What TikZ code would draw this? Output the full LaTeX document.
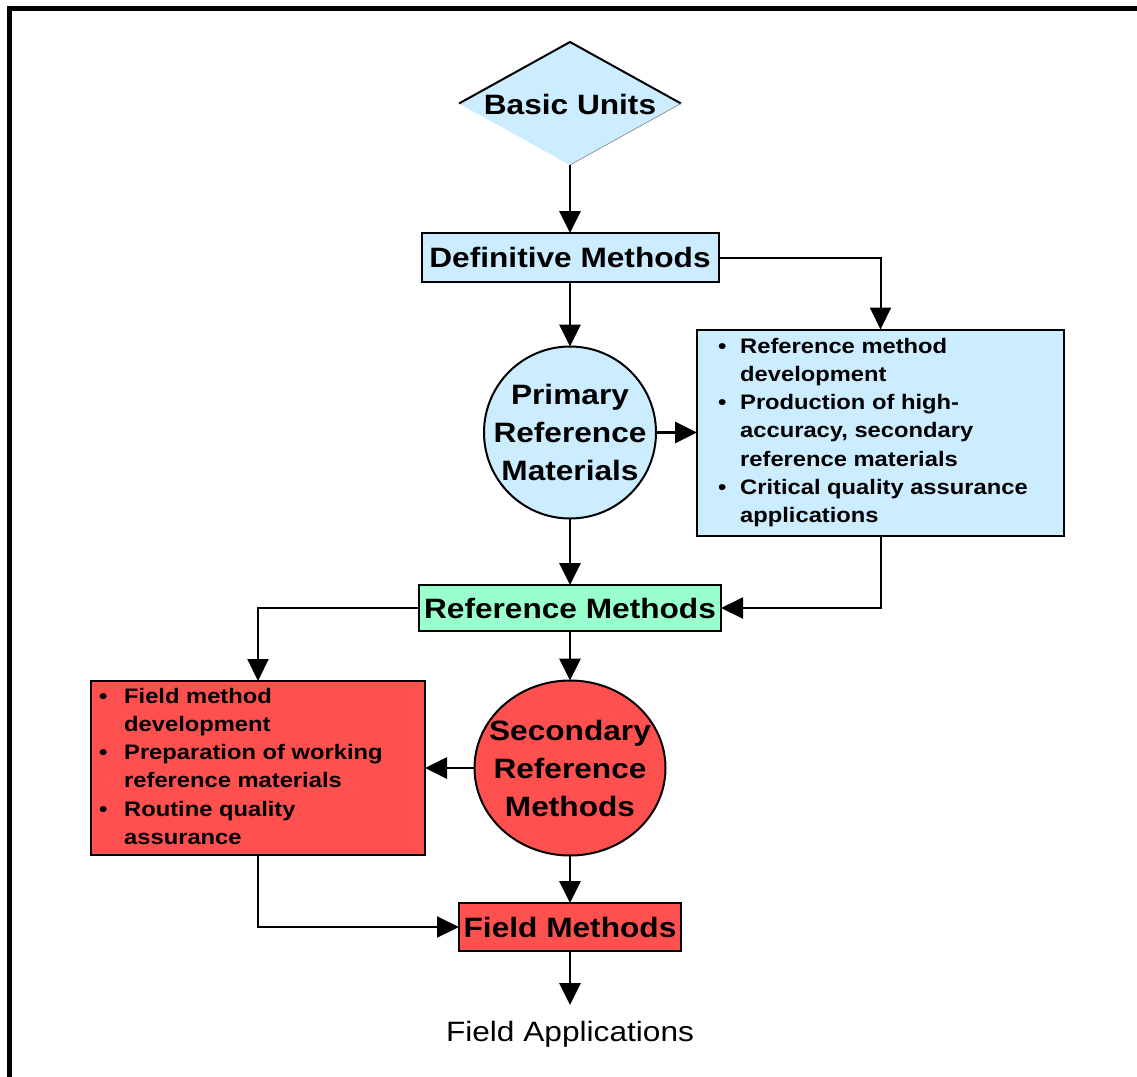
\documentclass[tikz,border=0pt]{standalone}
\usepackage{fontspec}
\setmainfont[FakeStretch=1.13]{Liberation Sans}
\usetikzlibrary{arrows.meta,shapes.geometric}
\definecolor{lblue}{HTML}{CCECFF}
\definecolor{mint}{HTML}{99FFCC}
\definecolor{rred}{HTML}{FF5050}
\begin{document}
\begin{tikzpicture}[x=1pt,y=-1pt,
  box/.style={draw=black,line width=2pt,inner sep=0pt,outer sep=0pt},
  hdr/.style={font=\bfseries\fontsize{28}{38}\selectfont,inner sep=0pt,align=center},
  bul/.style={font=\bfseries\fontsize{21}{28.3}\selectfont,inner sep=0pt,anchor=base west},
  arr/.style={line width=2.8pt,-{Triangle[length=22pt,width=21pt]}},
  elb/.style={line width=2pt,-{Triangle[length=22pt,width=21pt]}},
  rnd/.style={draw=black,line width=2pt,inner sep=0pt,outer sep=0pt}
]
\useasboundingbox (0,0) rectangle (1137,1076);
\begin{scope}
  \clip (0,0) rectangle (1137,1076);
  \draw[line width=5pt] (9.5,8.5) rectangle (1200,1200);
\end{scope}

% Basic Units diamond
\node[diamond,fill=lblue,minimum width=222pt,minimum height=123pt,inner sep=0pt,outer sep=0pt] (basic) at (570,103.5) {};
\draw[line width=2pt,line join=miter] (basic.west) -- (basic.north) -- (basic.east);
\draw[line width=0.6pt,gray] (basic.east) -- (basic.south);
\node[hdr] (basictxt) at (570,104) {Basic Units};

% Definitive Methods
\node[box,hdr,fill=lblue,minimum width=297pt,minimum height=49pt] (defm) at (570,257.5) {Definitive Methods};

% Primary Reference Materials
\node[circle,rnd,fill=lblue,minimum size=172pt] (prim) at (570,432.5) {};
\node[hdr] (primtxt) at (570,432) {Primary\\Reference\\Materials};

% Blue bullet box
\node[box,fill=lblue,minimum width=367pt,minimum height=206pt] (bbox) at (880.5,432.5) {};
\node[bul] (btxt) at (718,353) {\begin{tabular}[t]{@{}l@{}}
\makebox[22pt][l]{\textbullet}Reference method\\
\makebox[22pt][l]{}development\\
\makebox[22pt][l]{\textbullet}Production of high-\\
\makebox[22pt][l]{}accuracy, secondary\\
\makebox[22pt][l]{}reference materials\\
\makebox[22pt][l]{\textbullet}Critical quality assurance\\
\makebox[22pt][l]{}applications
\end{tabular}};

% Reference Methods
\node[box,hdr,fill=mint,minimum width=302pt,minimum height=46pt] (refm) at (570,608) {Reference Methods};

% Red bullet box
\node[box,fill=rred,minimum width=334pt,minimum height=174pt] (rbox) at (258,768) {};
\node[bul] (rtxt) at (99,703) {\begin{tabular}[t]{@{}l@{}}
\makebox[25pt][l]{\textbullet}Field method\\
\makebox[25pt][l]{}development\\
\makebox[25pt][l]{\textbullet}Preparation of working\\
\makebox[25pt][l]{}reference materials\\
\makebox[25pt][l]{\textbullet}Routine quality\\
\makebox[25pt][l]{}assurance
\end{tabular}};

% Secondary Reference Methods
\node[ellipse,rnd,fill=rred,minimum width=191pt,minimum height=175pt] (sec) at (570,768) {};
\node[hdr] (sectxt) at (570,768) {Secondary\\Reference\\Methods};

% Field Methods
\node[box,hdr,fill=rred,minimum width=222pt,minimum height=48pt] (fieldm) at (570,927) {Field Methods};

\coordinate (fend) at (570,1005);
\node[font=\fontsize{28}{34}\selectfont,inner sep=0pt] (fapp) at (570,1034) {Field Applications};

% Connectors
\draw[arr] (basic.south) -- (defm.north);
\draw[arr] (defm.south) -- (prim.north);
\draw[elb] (defm.east) -| (bbox.north);
\draw[arr] (prim.east) -- (bbox.west);
\draw[arr] (prim.south) -- (refm.north);
\draw[elb] (bbox.south) |- (refm.east);
\draw[elb] (refm.west) -| (rbox.north);
\draw[arr] (refm.south) -- (sec.north);
\draw[arr] (sec.west) -- (rbox.east);
\draw[arr] (sec.south) -- (fieldm.north);
\draw[elb] (rbox.south) |- (fieldm.west);
\draw[arr] (fieldm.south) -- (fend);
\end{tikzpicture}
\end{document}
